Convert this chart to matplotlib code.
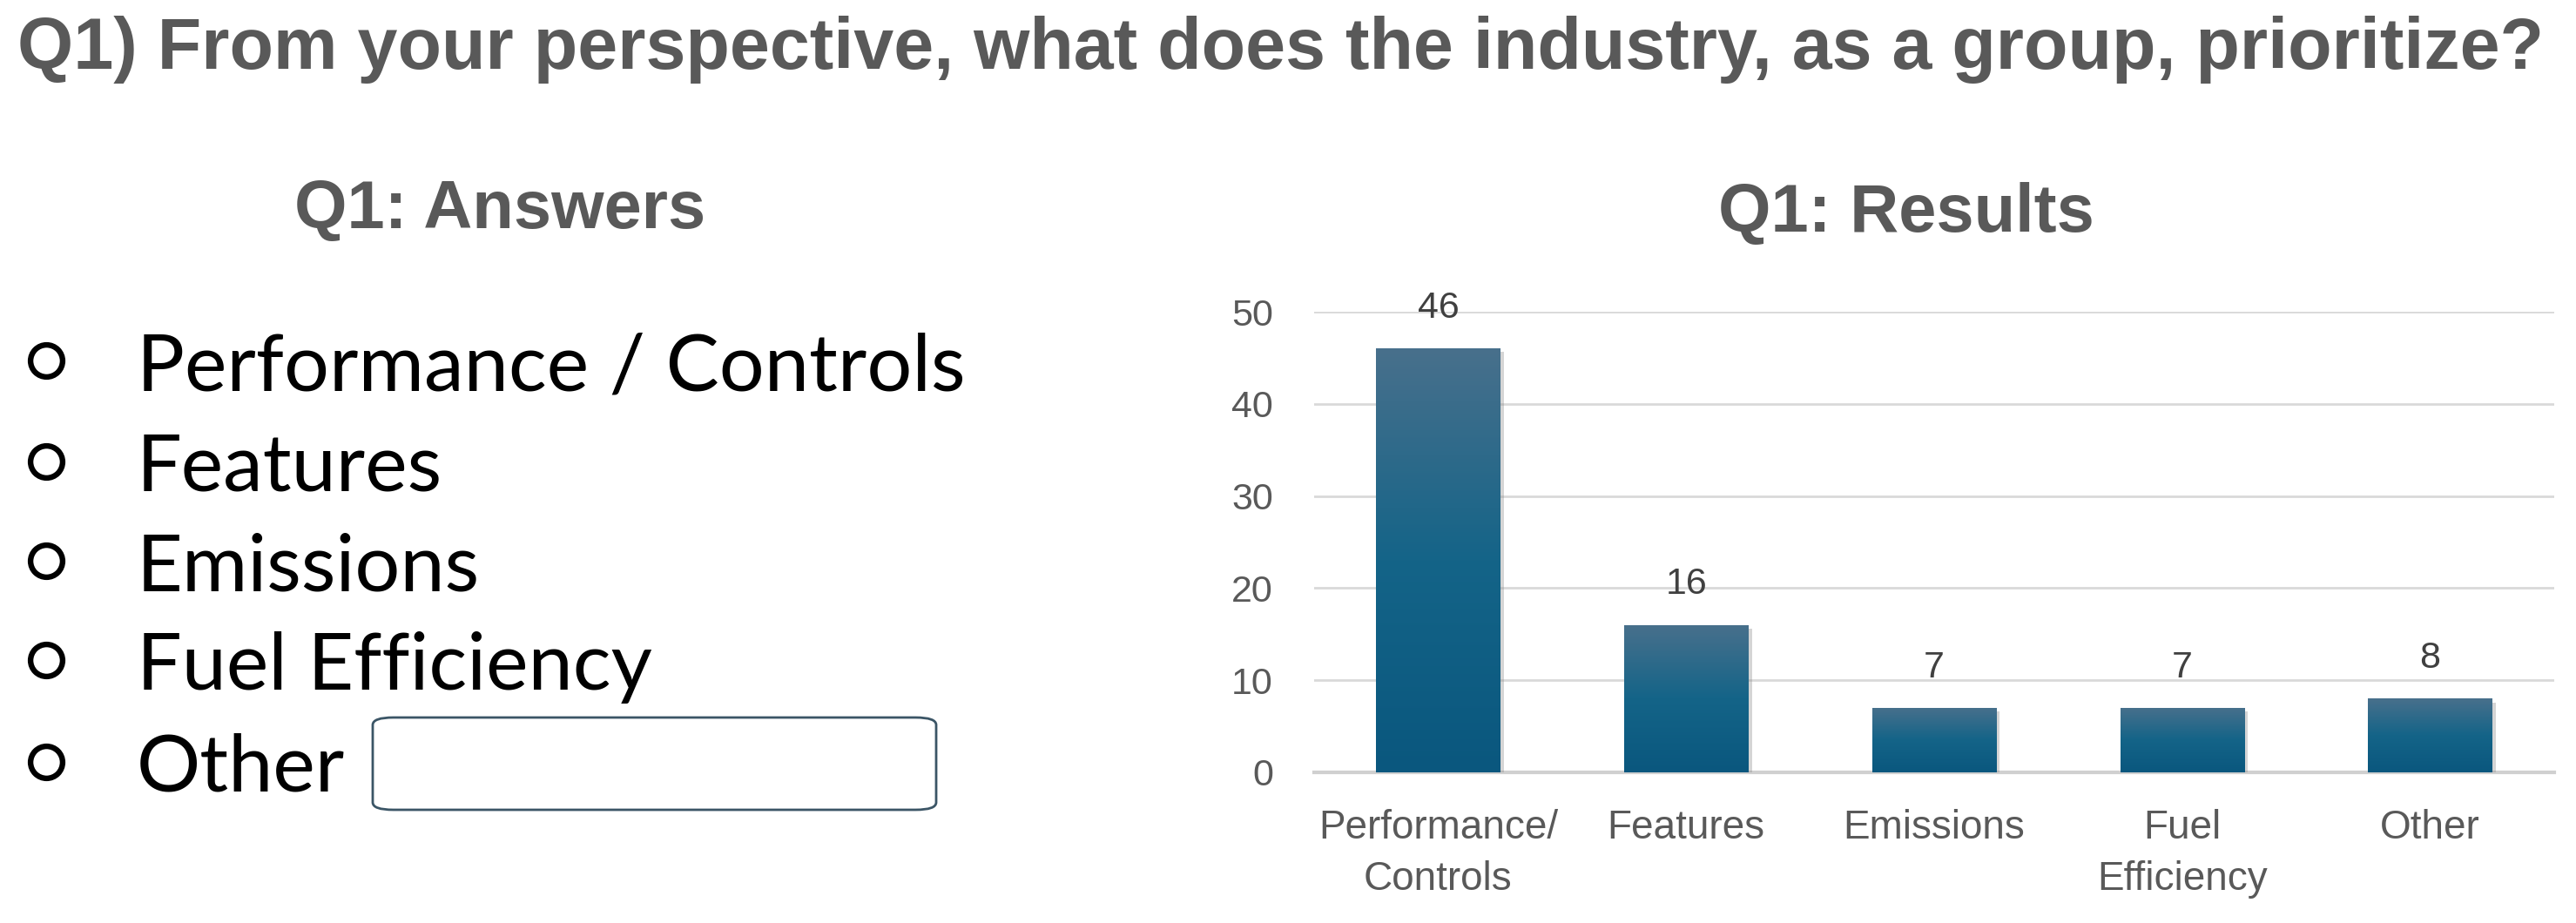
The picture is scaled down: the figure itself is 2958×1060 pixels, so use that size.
import matplotlib
matplotlib.use("Agg")
import matplotlib.pyplot as plt
import numpy as np
from matplotlib.patches import FancyBboxPatch
from matplotlib.lines import Line2D
import matplotlib.patheffects as pe
from matplotlib.colors import LinearSegmentedColormap

# ---- data ----
title = "Q1) From your perspective, what does the industry, as a group, prioritize?"
answers_title = "Q1: Answers"
results_title = "Q1: Results"
answer_options = ["Performance / Controls", "Features", "Emissions", "Fuel Efficiency", "Other"]
categories = ["Performance/\nControls", "Features", "Emissions", "Fuel\nEfficiency", "Other"]
counts = [46, 16, 7, 7, 8]
yticks = [0, 10, 20, 30, 40, 50]

W, H = 2958, 1060
fig = plt.figure(figsize=(W / 100, H / 100), dpi=100)
fig.patch.set_facecolor("white")

sans = ["Liberation Sans", "DejaVu Sans"]
body = ["Lato", "DejaVu Sans"]
gray_title = "#595959"

fig.text(0.497, 0.946, title, ha="center", va="center", fontsize=59.5,
         fontweight="bold", color=gray_title, family=sans)
fig.text(0.194, 0.772, answers_title, ha="center", va="center", fontsize=56,
         fontweight="bold", color=gray_title, family=sans)
fig.text(0.740, 0.768, results_title, ha="center", va="center", fontsize=56,
         fontweight="bold", color=gray_title, family=sans)

# ---- left: answer list ----
item_y = [0.601, 0.492, 0.384, 0.277, 0.167]
for y, txt in zip(item_y, answer_options):
    fig.text(0.053, y, txt, ha="left", va="center", fontsize=66, color="black",
             family=body)
    fig.add_artist(Line2D([53 / W], [y + 0.008], transform=fig.transFigure,
                          marker="o", markersize=26.5, markerfacecolor="white",
                          markeredgecolor="black", markeredgewidth=4.6,
                          linestyle="none"))
# the "Other" text box
bx0, bx1 = 428 / W, 1075 / W
by0, by1 = 1 - 930 / H, 1 - 824 / H
fig.patches.append(FancyBboxPatch((bx0, by0), bx1 - bx0, by1 - by0,
                                  boxstyle="round,pad=0,rounding_size=0.008",
                                  transform=fig.transFigure, facecolor="white",
                                  edgecolor="#3b5566", linewidth=2))

# ---- right: bar chart ----
ax = fig.add_axes([1509 / W, 173 / H, (2933 - 1509) / W, (887 - 358) / H])
x = np.arange(len(categories))
bars = ax.bar(x, counts, width=0.5, color="#1a5f85", zorder=3,
              path_effects=[pe.SimplePatchShadow(offset=(3, -3), shadow_rgbFace="#888888",
                                                 alpha=0.35), pe.Normal()])
cmap = LinearSegmentedColormap.from_list("g", ["#0a577e", "#146488", "#48708c"])
grad = np.linspace(0, 1, 256).reshape(-1, 1)
for b in bars:
    x0, w, h = b.get_x(), b.get_width(), b.get_height()
    im = ax.imshow(grad, extent=(x0, x0 + w, 0, h), origin="lower", cmap=cmap,
                   aspect="auto", zorder=4)
    im.set_clip_path(b)

for b, v in zip(bars, counts):
    ax.annotate(str(v), (b.get_x() + b.get_width() / 2, b.get_height()),
                xytext=(0, 19), textcoords="offset points", ha="center", va="bottom",
                fontsize=31, color="#404040", family=sans, zorder=5)

ax.set_xlim(-0.5, len(categories) - 0.5)
ax.set_ylim(0, 50)
ax.set_yticks(yticks)
ax.set_xticks(x)
ax.set_xticklabels(categories, fontsize=33, color=gray_title, family=sans,
                   linespacing=1.45)
ax.tick_params(axis="y", labelsize=31, labelcolor=gray_title, length=0, pad=34)
ax.tick_params(axis="x", length=0, pad=30)
for lab in ax.get_yticklabels():
    lab.set_family(sans)
ax.grid(axis="y", color="#d9d9d9", linewidth=2, zorder=0)
ax.set_axisbelow(True)
for s in ["top", "right", "left"]:
    ax.spines[s].set_visible(False)
ax.spines["bottom"].set_color("#d0d0d0")
ax.spines["bottom"].set_linewidth(3)
ax.set_facecolor("white")

fig.savefig("out.png", dpi=100, facecolor="white")
